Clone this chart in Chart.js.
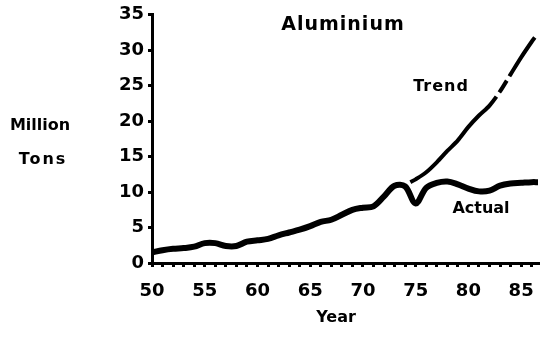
<!DOCTYPE html>
<html>
<head>
<meta charset="utf-8">
<script src="https://cdn.jsdelivr.net/npm/chart.js@4/dist/chart.umd.min.js"></script>
<style>
  html, body { margin: 0; padding: 0; background: #fff; }
  #wrap { width: 552px; height: 337px; }
</style>
</head>
<body>
<div id="wrap"><canvas id="chart" width="552" height="337"></canvas></div>
<script>
// Datos (millones de toneladas)
const years = [50, 51, 52, 53, 54, 55, 56, 57, 58, 59, 60, 61, 62, 63, 64, 65, 66, 67, 68,
               69, 70, 71, 72, 73, 74, 75, 76, 77, 78, 79, 80, 81, 82, 83, 84, 85, 86, 86.6];
const actual = [1.5, 1.8, 2.0, 2.1, 2.3, 2.8, 2.8, 2.4, 2.4, 3.0, 3.2, 3.4, 3.9, 4.3, 4.7,
                5.2, 5.8, 6.1, 6.8, 7.5, 7.8, 8.0, 9.4, 10.9, 10.8, 8.4, 10.6, 11.3, 11.5,
                11.1, 10.5, 10.1, 10.2, 10.9, 11.2, 11.3, 11.4, 11.4];
const trendYears = [74.5, 75, 76, 77, 78, 79, 80, 81, 82, 83, 84, 85, 86, 86.3];
const trend = [11.4, 11.8, 12.8, 14.2, 15.8, 17.3, 19.2, 20.8, 22.2, 24.2, 26.6, 29.0, 31.2, 31.8];
const xTicks = [50, 55, 60, 65, 70, 75, 80, 85];
const yTicks = [0, 5, 10, 15, 20, 25, 30, 35];

const FONT = 'DejaVu Sans';

// Textos sueltos: título, etiquetas de series y de ejes
const textPlugin = {
    id: 'textos',
    afterDraw(chart) {
        const ctx = chart.ctx;
        const put = (txt, x, y, size, spacing) => {
            ctx.save();
            ctx.font = `bold ${size}px "${FONT}"`;
            ctx.letterSpacing = spacing + 'px';
            ctx.fillStyle = '#000';
            ctx.textAlign = 'center';
            ctx.textBaseline = 'middle';
            ctx.fillText(txt, x, y);
            ctx.restore();
        };
        put('Aluminium', 343, 25, 19, 1);
        put('Trend', 441, 87, 16, 1);
        put('Actual', 481, 209, 16, 0);
        put('Million', 40, 126, 16, 0);
        put('Tons', 43, 160, 16, 2);
        put('Year', 336, 318, 16, 0);
    }
};

new Chart(document.getElementById('chart').getContext('2d'), {
    type: 'line',
    data: {
        datasets: [{
            label: 'Actual',
            data: years.map((y, i) => ({ x: y, y: actual[i] })),
            borderColor: '#000',
            borderWidth: 6,
            pointRadius: 0,
            tension: 0.35,
            borderCapStyle: 'round',
            borderJoinStyle: 'round'
        }, {
            label: 'Trend',
            data: trendYears.map((y, i) => ({ x: y, y: trend[i] })),
            borderColor: '#000',
            borderWidth: 4,
            pointRadius: 0,
            tension: 0.3,
            borderDash: [122, 5, 14, 5, 400],
            borderCapStyle: 'butt'
        }]
    },
    options: {
        responsive: false,
        animation: false,
        layout: { padding: { left: 0, right: 14, top: 14, bottom: 0 } },
        plugins: { legend: { display: false }, tooltip: { enabled: false } },
        scales: {
            x: {
                type: 'linear',
                min: 50,
                max: 86.6,
                afterFit: (s) => { s.height = 74; },
                afterBuildTicks: (s) => {
                    const t = [];
                    for (let v = 50; v <= 86; v++) t.push({ value: v });
                    s.ticks = t;
                },
                border: { color: '#000', width: 3 },
                grid: { drawOnChartArea: false, drawTicks: true, tickColor: '#000', lineWidth: 3, tickLength: 4 },
                ticks: {
                    autoSkip: false,
                    maxRotation: 0,
                    padding: 14,
                    color: '#000',
                    font: { family: FONT, size: 18, weight: 'bold' },
                    callback: (v) => xTicks.includes(v) ? String(v) : ''
                }
            },
            y: {
                min: 0,
                max: 35,
                afterFit: (s) => { s.width = 152; },
                afterBuildTicks: (s) => { s.ticks = yTicks.map(v => ({ value: v })); },
                border: { color: '#000', width: 3 },
                grid: { drawOnChartArea: false, drawTicks: true, tickColor: '#000', lineWidth: 3, tickLength: 4 },
                ticks: {
                    padding: 4,
                    color: '#000',
                    font: { family: FONT, size: 18, weight: 'bold' }
                }
            }
        }
    },
    plugins: [textPlugin]
});
</script>
</body>
</html>
